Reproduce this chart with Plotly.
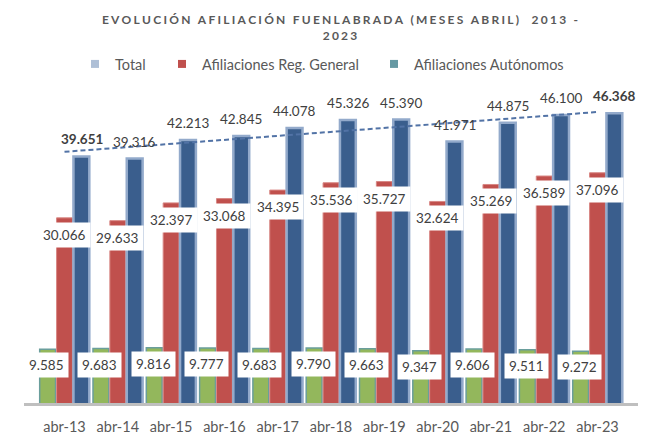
import numpy as np
import plotly.graph_objects as go

# -------------------------- data --------------------------
meses = ['abr-13', 'abr-14', 'abr-15', 'abr-16', 'abr-17', 'abr-18',
         'abr-19', 'abr-20', 'abr-21', 'abr-22', 'abr-23']
total = [39651, 39316, 42213, 42845, 44078, 45326, 45390, 41971, 44875, 46100, 46368]
reg_general = [30066, 29633, 32397, 33068, 34395, 35536, 35727, 32624, 35269, 36589, 37096]
autonomos = [9585, 9683, 9816, 9777, 9683, 9790, 9663, 9347, 9606, 9511, 9272]

titulo = ['EVOLUCIÓN AFILIACIÓN FUENLABRADA (MESES ABRIL)  2013 -', '2023']

# linear trend over Total (as the Excel trendline)
idx = np.arange(len(total))
k, b = np.polyfit(idx, total, 1)
tendencia = k * idx + b


def fmt(v):
    return f'{v:,}'.replace(',', '.')


FONT = 'Lato'
GRIS = '#404040'
# the page body has an 8px default margin, so the figure is sized to fit the window
W, H = 641, 428
L, PW, T, PH = 16, 614, 82, 313

fig = go.Figure()

fig.add_trace(go.Bar(x=meses, y=autonomos, name='Afiliaciones Autónomos', showlegend=False,
                     marker=dict(color='#93B75C', line=dict(color='#6A9E9C', width=1.5))))
fig.add_trace(go.Bar(x=meses, y=reg_general, name='Afiliaciones Reg. General', showlegend=False,
                     marker=dict(color='#C0504D', line=dict(color='#D88784', width=1))))
fig.add_trace(go.Bar(x=meses, y=total, name='Total', showlegend=False,
                     marker=dict(color='#3A5E8D', line=dict(color='#93AACB', width=2.5))))

fig.add_trace(go.Scatter(x=meses, y=tendencia, mode='lines', showlegend=False, hoverinfo='skip',
                         line=dict(color='#5273A6', width=2, dash='5px,3px')))

# legend entries (the legend swatches use lighter tones than the bars)
leyenda = [('Total', '#AEBFD6', 'legend', 67),
           ('Afiliaciones Reg. General', '#C0504D', 'legend2', 154),
           ('Afiliaciones Autónomos', '#6699A3', 'legend3', 366)]
for nombre, color, leg, px_x in leyenda:
    fig.add_trace(go.Scatter(x=[None], y=[None], mode='markers', name=nombre, legend=leg,
                             marker=dict(symbol='square', size=8, color=color)))
    fig.update_layout({leg: dict(xref='container', yref='container', x=px_x / W, y=1 - 56 / H,
                                 xanchor='left', yanchor='middle', orientation='h',
                                 bgcolor='rgba(0,0,0,0)', itemwidth=30,
                                 font=dict(family=FONT, size=14.5, color='#595959'))})

# value labels
ann = []
for i, m in enumerate(meses):
    negrita = i in (0, len(meses) - 1)
    ann.append(dict(x=m, y=total[i], xref='x', yref='y', text=fmt(total[i]), showarrow=False,
                    xshift=17, yshift=17,
                    font=dict(family=FONT, size=13.5, color=GRIS,
                              weight='bold' if negrita else 'normal')))
    ann.append(dict(x=m, y=reg_general[i], xref='x', yref='y', text=fmt(reg_general[i]),
                    showarrow=False, yshift=-17, bgcolor='white', borderpad=4,
                    font=dict(family=FONT, size=13.5, color=GRIS)))
    ann.append(dict(x=m, y=autonomos[i], xref='x', yref='y', text=fmt(autonomos[i]),
                    showarrow=False, xshift=-18, yshift=-16, bgcolor='white', borderpad=4,
                    font=dict(family=FONT, size=13.5, color=GRIS)))

titulo_txt = '<br>'.join('\u2009\u200a'.join(list(t)) for t in titulo)

fig.update_layout(
    width=W, height=H,
    margin=dict(l=L, r=W - L - PW, t=T, b=H - T - PH, autoexpand=False),
    paper_bgcolor='white', plot_bgcolor='white',
    barmode='group', bargap=0.05, bargroupgap=0.06,
    title=dict(text=titulo_txt, xref='container', yref='container', x=332 / W, y=1 - 16 / H,
               xanchor='center', yanchor='middle',
               font=dict(family=FONT, size=12, color='#595959', weight='bold')),
    annotations=ann,
    xaxis=dict(showgrid=False, showline=True, linecolor='#BFBFBF', linewidth=3,
               ticks='outside', ticklen=9, tickcolor='rgba(0,0,0,0)',
               tickfont=dict(family=FONT, size=14.5, color='#595959')),
    yaxis=dict(visible=False, range=[1200, 50000]),
)

fig.write_html('out.html')
